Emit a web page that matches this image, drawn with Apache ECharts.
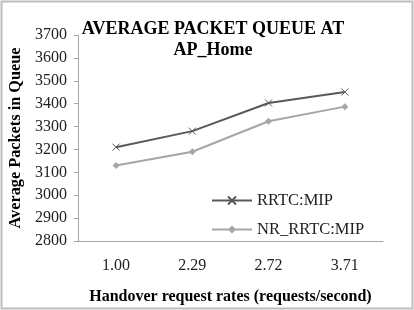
<!DOCTYPE html>
<html><head><meta charset="utf-8">
<script src="https://cdn.jsdelivr.net/npm/echarts@6/dist/echarts.min.js"></script>
<style>html,body{margin:0;padding:0;background:#fff}#c{width:414px;height:310px}</style>
</head><body><div id="c"></div>
<script>
const categories = ['1.00', '2.29', '2.72', '3.71'];
const rrtc = [3210, 3280, 3403, 3451];
const nrRrtc = [3130, 3190, 3323, 3387];
const seriesNames = ['RRTC:MIP', 'NR_RRTC:MIP'];
const titleText = 'AVERAGE PACKET QUEUE AT\nAP_Home';
const yName = 'Average Packets in Queue';
const xName = 'Handover request rates (requests/second)';

const font = '"Liberation Serif", "Times New Roman", serif';
const chart = echarts.init(document.getElementById('c'), null, {renderer: 'canvas'});
chart.setOption({
  animation: false,
  backgroundColor: '#fff',
  title: {
    text: titleText, left: 208, top: 14, textAlign: 'center',
    textStyle: {fontFamily: font, fontWeight: 'bold', fontSize: 18, color: '#000', lineHeight: 21}
  },
  grid: {left: 73, right: 31, top: 35, bottom: 68},
  legend: {
    orient: 'vertical', left: 206, top: 187, itemGap: 12,
    itemWidth: 40, itemHeight: 10,
    textStyle: {fontFamily: font, fontSize: 16.5, color: '#222'},
    data: seriesNames
  },
  xAxis: {
    type: 'category', data: categories, boundaryGap: true,
    axisLine: {lineStyle: {color: '#a6a6a6', width: 1}},
    axisTick: {show: false},
    axisLabel: {fontFamily: font, fontSize: 16, color: '#222', margin: 17},
    name: xName, nameLocation: 'middle', nameGap: 48,
    nameTextStyle: {fontFamily: font, fontSize: 16, fontWeight: 'bold', color: '#000'}
  },
  yAxis: {
    type: 'value', min: 2800, max: 3700, interval: 100,
    axisLine: {show: true, lineStyle: {color: '#a6a6a6', width: 1}},
    axisTick: {show: true, length: 4, lineStyle: {color: '#a6a6a6'}},
    splitLine: {show: false},
    axisLabel: {fontFamily: font, fontSize: 16, color: '#222', margin: 11,
      formatter: v => String(v)},
    name: yName, nameLocation: 'middle', nameGap: 49, nameRotate: 90,
    nameTextStyle: {fontFamily: font, fontSize: 16.3, fontWeight: 'bold', color: '#000'}
  },
  series: [
    {
      name: seriesNames[0], type: 'line', data: rrtc,
      symbol: 'path://M0,0L10,10M10,0L0,10', symbolSize: 7,
      lineStyle: {color: '#595959', width: 2},
      itemStyle: {color: '#595959', borderColor: '#595959', borderWidth: 1}
    },
    {
      name: seriesNames[1], type: 'line', data: nrRrtc,
      symbol: 'diamond', symbolSize: 7,
      lineStyle: {color: '#a6a6a6', width: 2},
      itemStyle: {color: '#a6a6a6'}
    }
  ],
  graphic: [{
    type: 'rect', shape: {x: 1.5, y: 1.5, width: 411, height: 307},
    style: {fill: 'none', stroke: '#bdbdbd', lineWidth: 2}, silent: true
  }]
});
</script></body></html>
